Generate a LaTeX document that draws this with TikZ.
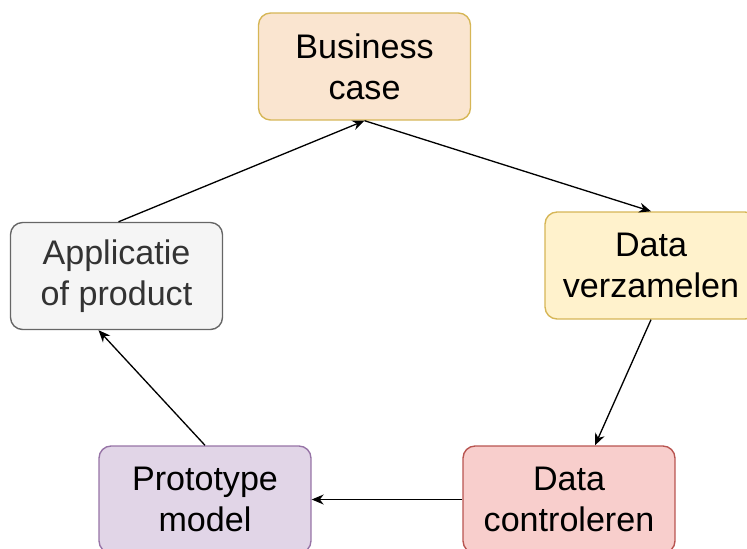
\documentclass[tikz,border=0pt]{standalone}
\usepackage{fontspec}
\setmainfont{Liberation Sans}
\usetikzlibrary{arrows.meta}
\definecolor{orangefill}{HTML}{FAE5D0}
\definecolor{orangeline}{HTML}{D6B656}
\definecolor{yellowfill}{HTML}{FFF2CC}
\definecolor{yellowline}{HTML}{D6B656}
\definecolor{redfill}{HTML}{F8CECC}
\definecolor{redline}{HTML}{B85450}
\definecolor{purplefill}{HTML}{E1D5E7}
\definecolor{purpleline}{HTML}{9673A6}
\definecolor{grayfill}{HTML}{F5F5F5}
\definecolor{grayline}{HTML}{666666}
\definecolor{graytext}{HTML}{333333}

\begin{document}
\begin{tikzpicture}[x=0.02cm, y=-0.02cm,
  box/.style={rectangle, rounded corners=0.24cm, draw, line width=0.8pt,
    minimum width=4.24cm, minimum height=2.14cm, align=center,
    font=\fontsize{19.4}{23.3}\selectfont},
  flow/.style={-{Stealth[length=0.24cm, width=0.2cm]}, line width=0.75pt, black}]
  \useasboundingbox (0,0) rectangle (747,548);
  \node[box, fill=orangefill, draw=orangeline] (business) at (364.5,66.5) {Business\\case};
  \node[box, fill=yellowfill, draw=yellowline] (verzamelen) at (651,265.5) {Data\\verzamelen};
  \node[box, fill=redfill, draw=redline] (controleren) at (569,499.5) {Data\\controleren};
  \node[box, fill=purplefill, draw=purpleline] (prototype) at (205,499.5) {Prototype\\model};
  \node[box, fill=grayfill, draw=grayline, text=graytext] (applicatie) at (116.5,276) {Applicatie\\of product};
  \draw[flow] (business.south) -- (verzamelen.north);
  \draw[flow] (verzamelen.south) -- ([xshift=0.52cm]controleren.north);
  \draw[flow] (controleren.west) -- (prototype.east);
  \draw[flow] (prototype.north) -- ([xshift=-0.36cm]applicatie.south);
  \draw[flow] ([xshift=0.04cm]applicatie.north) -- (business.south);
\end{tikzpicture}
\end{document}
